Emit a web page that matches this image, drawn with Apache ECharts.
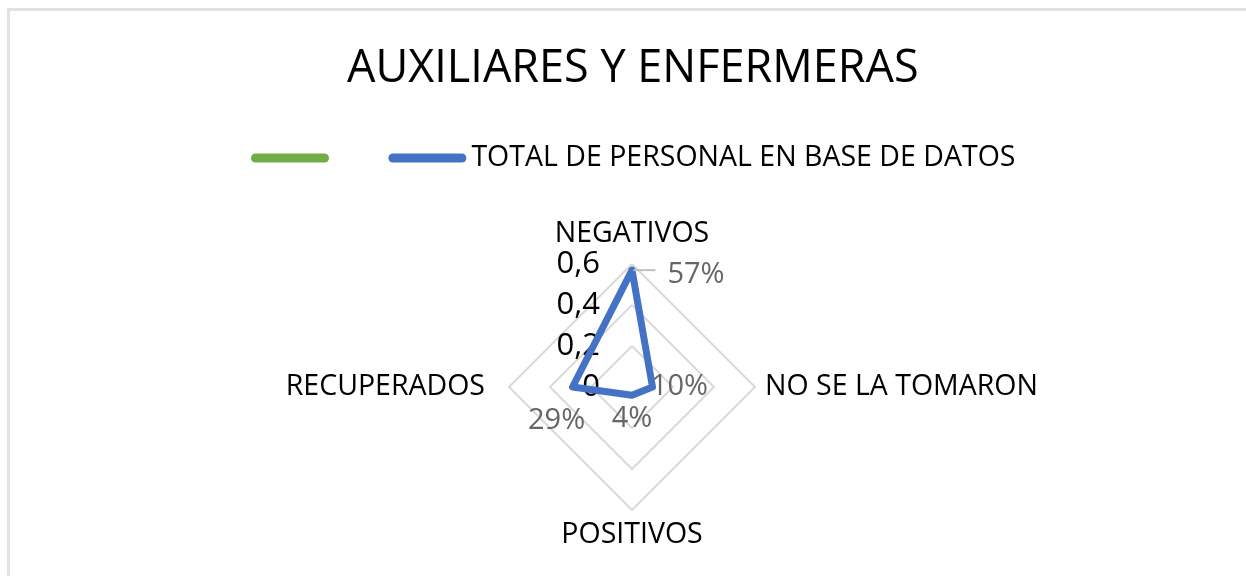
<!DOCTYPE html>
<html>
<head>
<meta charset="utf-8">
<script src="https://cdn.jsdelivr.net/npm/echarts@6/dist/echarts.min.js"></script>
<style>
  html, body { margin: 0; padding: 0; background: #fff; }
  #frame {
    position: absolute; left: 7px; top: 8px; width: 1250px; height: 600px;
    border-top: 3px solid #e2e2e2; border-left: 3px solid #e2e2e2;
  }
  #chart { position: absolute; left: 0; top: 0; width: 1246px; height: 576px; }
</style>
</head>
<body>
<div id="frame"></div>
<div id="chart"></div>
<script>
var title = "AUXILIARES Y ENFERMERAS";
var categories = ["NEGATIVOS", "NO SE LA TOMARON", "POSITIVOS", "RECUPERADOS"];
var seriesNames = [" ", "TOTAL DE PERSONAL EN BASE DE DATOS"];
var greenValues = [null, null, null, null];
var totalValues = [0.57, 0.10, 0.04, 0.29];
var tickLabels = ["0", "0,2", "0,4", "0,6"];
var axisMax = 0.6;

var FONT = '"Open Sans", sans-serif';
var GREEN = "#70AD47";
var BLUE = "#4472C4";
var LABEL_GREY = "#666";

// echarts draws radar axes counter-clockwise, the original goes clockwise
var order = [0, 3, 2, 1];
// gap between each vertex and its name (by category)
var nameGaps = [13, 10, 10, 24];

function reorder(arr) {
  return order.map(function (i) { return arr[i]; });
}

var indicators = order.map(function (ci) {
  var ind = { name: categories[ci], max: axisMax, min: 0, nameGap: nameGaps[ci] };
  if (ci === 0) {
    ind.axisLabel = {
      show: true,
      margin: 32,
      color: "#000",
      fontSize: 31,
      fontFamily: FONT,
      formatter: function (v, idx) { return tickLabels[idx]; },
    };
  }
  return ind;
});

function pct(v) {
  return Math.round(v * 100) + "%";
}

var chartDom = document.getElementById("chart");
var myChart = echarts.init(chartDom);
var option = {
  animation: false,
  title: {
    text: title,
    left: 347,
    top: 47,
    padding: 0,
    textStyle: { fontSize: 45, fontWeight: "normal", color: "#000", fontFamily: FONT },
  },
  legend: {
    left: 251,
    top: 142,
    padding: 0,
    itemWidth: 78,
    itemHeight: 9,
    itemGap: 47,
    icon: "path://M4.5,0 H73.5 A4.5,4.5 0 0 1 73.5,9 H4.5 A4.5,4.5 0 0 1 4.5,0 Z",
    itemStyle: { borderWidth: 0 },
    textStyle: { fontSize: 28.5, lineHeight: 32, color: "#000", fontFamily: FONT },
    data: [
      { name: seriesNames[0], itemStyle: { color: GREEN, borderWidth: 0 } },
      { name: seriesNames[1], itemStyle: { color: BLUE, borderWidth: 0 } },
    ],
  },
  radar: {
    center: [632, 387],
    radius: 123,
    shape: "polygon",
    splitNumber: 3,
    startAngle: 90,
    indicator: indicators,
    axisName: { color: "#000", fontSize: 28.5, fontFamily: FONT },
    axisLine: { show: false },
    axisTick: { show: false },
    axisLabel: { show: false },
    splitArea: { show: false },
    splitLine: { lineStyle: { color: "#d9d9d9", width: 2 } },
  },
  series: [
    {
      type: "radar",
      data: [
        {
          name: seriesNames[0],
          value: reorder(greenValues),
          symbol: "none",
          itemStyle: { color: GREEN },
          lineStyle: { width: 0, color: GREEN },
          label: { show: false },
        },
        {
          name: seriesNames[1],
          value: reorder(totalValues),
          symbol: "circle",
          symbolSize: 2,
          itemStyle: { color: BLUE },
          lineStyle: { width: 7, color: BLUE, join: "round", cap: "round" },
          label: {
            show: true,
            position: "inside",
            color: LABEL_GREY,
            fontSize: 29,
            fontFamily: FONT,
            formatter: function (p) {
              var t = pct(p.value);
              var c = order[p.dimensionIndex];
              if (c === 0) return "{sp|}{ln|}{c0|" + t + "}";
              return "{c" + c + "|" + t + "}";
            },
            rich: {
              sp: { width: 94, height: 2 },
              ln: { width: 22, height: 2, backgroundColor: "#bfbfbf" },
              c0: { color: LABEL_GREY, fontSize: 29, fontFamily: FONT, padding: [10, 0, 0, 12] },
              c1: { color: LABEL_GREY, fontSize: 29, fontFamily: FONT, padding: [0, 0, 0, 54] },
              c2: { color: LABEL_GREY, fontSize: 29, fontFamily: FONT, padding: [48, 0, 0, 0] },
              c3: { color: LABEL_GREY, fontSize: 29, fontFamily: FONT, padding: [68, 32, 0, 0] },
            },
          },
        },
      ],
    },
  ],
};
option && myChart.setOption(option);
</script>
</body>
</html>
